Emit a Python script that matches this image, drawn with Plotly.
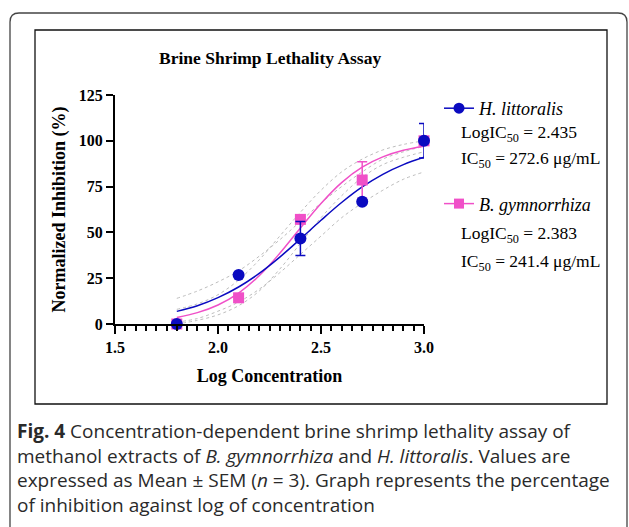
import plotly.graph_objects as go

# ---------------- data ----------------
log_conc = [1.8, 2.1, 2.4, 2.7, 3.0]
hl_mean = [0.0, 26.7, 46.7, 66.7, 100.0]
hl_sem = [0.0, 0.0, 9.3, 0.0, 9.4]
bg_mean = [0.0, 14.3, 57.1, 78.6, 100.0]
bg_sem = [0.0, 0.0, 1.5, 10.0, 0.0]

fit_x = [1.8, 1.9, 2.0, 2.1, 2.2, 2.3, 2.4, 2.5, 2.6, 2.7, 2.8, 2.9, 3.0]
hl_fit = [6.9, 10.0, 14.4, 20.2, 27.6, 36.5, 46.4, 56.6, 66.3, 74.8, 81.7, 87.0, 91.0]
bg_fit = [3.6, 6.2, 10.4, 16.9, 26.3, 38.6, 52.4, 65.8, 77.2, 85.6, 91.2, 94.8, 97.0]
hl_lo = [1, 3, 7, 12, 19, 28, 38, 48, 58, 66, 73, 79, 83]
hl_hi = [14, 18, 23, 29, 37, 46, 56, 66, 75, 83, 90, 94, 97]
bg_lo = [0, 2, 5, 10, 18, 30, 44, 58, 70, 80, 87, 91, 94]
bg_hi = [8, 11, 16, 24, 35, 48, 61, 73, 83, 90, 95, 98, 100]

y_ticks = [0, 25, 50, 75, 100, 125]
x_ticks = [1.5, 2.0, 2.5, 3.0]
x_tick_text = ["1.5", "2.0", "2.5", "3.0"]

BLUE = "#0a0ac0"
PINK = "#f050c8"
SERIF = "Liberation Serif, Times New Roman, serif"

# plot area in pixels
W, H = 629, 527
L, R, T, B = 115, 424, 95, 324


def px(x):
    return (x - L) / (R - L)


def py(y):
    return (B - y) / (B - T)


fig = go.Figure()

# confidence bands (dotted)
for band in [bg_lo, bg_hi, hl_lo, hl_hi]:
    fig.add_trace(go.Scatter(x=fit_x, y=band, mode="lines", line=dict(color="#bdbdbd", width=1, dash="dot", shape="spline"),
                             showlegend=False, hoverinfo="skip", cliponaxis=False))

# fitted curves
fig.add_trace(go.Scatter(x=fit_x, y=bg_fit, mode="lines", line=dict(color=PINK, width=1.5, shape="spline"),
                         showlegend=False, cliponaxis=False))
fig.add_trace(go.Scatter(x=fit_x, y=hl_fit, mode="lines", line=dict(color=BLUE, width=1.5, shape="spline"),
                         showlegend=False, cliponaxis=False))

# data points
fig.add_trace(go.Scatter(x=log_conc, y=bg_mean, mode="markers",
                         marker=dict(symbol="square", size=11, color=PINK),
                         error_y=dict(type="data", array=bg_sem, color=PINK, thickness=1.5, width=5),
                         showlegend=False, cliponaxis=False))
fig.add_trace(go.Scatter(x=log_conc, y=hl_mean, mode="markers",
                         marker=dict(symbol="circle", size=12, color=BLUE),
                         error_y=dict(type="data", array=hl_sem, color=BLUE, thickness=1.5, width=5),
                         showlegend=False, cliponaxis=False))

# legend entries
fig.add_trace(go.Scatter(x=[None], y=[None], mode="lines+markers", name="<i>H. littoralis</i>",
                         line=dict(color=BLUE, width=1.5), marker=dict(symbol="circle", size=11, color=BLUE),
                         legendgroup="a"))
fig.add_trace(go.Scatter(x=[None], y=[None], mode="lines+markers", name="<i>B. gymnorrhiza</i>",
                         line=dict(color=PINK, width=1.5), marker=dict(symbol="square", size=10, color=PINK),
                         legendgroup="b"))

legend_lines = [
    ("LogIC<sub>50</sub> = 2.435", 133),
    ("IC<sub>50</sub> = 272.6 μg/mL", 159),
    ("LogIC<sub>50</sub> = 2.383", 234),
    ("IC<sub>50</sub> = 241.4 μg/mL", 262),
]
annotations = []
for txt, yy in legend_lines:
    annotations.append(dict(text=txt, xref="paper", yref="paper", x=px(459), y=py(yy), xanchor="left",
                            yanchor="middle", showarrow=False, font=dict(family=SERIF, size=17.5, color="black")))

caption = ("<b>Fig. 4</b> Concentration-dependent brine shrimp lethality assay of<br>"
           "methanol extracts of <i>B. gymnorrhiza</i> and <i>H. littoralis</i>. Values are<br>"
           "expressed as Mean ± SEM (<i>n</i> = 3). Graph represents the percentage<br>"
           "of inhibition against log of concentration")
annotations.append(dict(text=caption, xref="paper", yref="paper", x=px(15), y=py(416), xanchor="left",
                        yanchor="top", align="left", showarrow=False,
                        font=dict(family="Open Sans, Noto Sans, sans-serif", size=19, color="#2a2a2a")))

annotations.append(dict(text="<b>Brine Shrimp Lethality Assay</b>", xref="paper", yref="paper",
                        x=px(270), y=py(58), xanchor="center", yanchor="middle", showarrow=False,
                        font=dict(family=SERIF, size=17.5, color="black")))

# decorative frames
r = 9
outer = (f"M {px(10)} {py(540)} L {px(10)} {py(13 + r)} Q {px(10)} {py(13)} {px(10 + r)} {py(13)} "
         f"L {px(627 - r)} {py(13)} Q {px(627)} {py(13)} {px(627)} {py(13 + r)} L {px(627)} {py(540)}")
shapes = [
    dict(type="path", path=outer, xref="paper", yref="paper", line=dict(color="#444444", width=1.3)),
    dict(type="rect", xref="paper", yref="paper", x0=px(35), x1=px(607), y0=py(30), y1=py(404),
         line=dict(color="#111111", width=1.3)),
]

tickfont = dict(family=SERIF, size=16, color="black", weight="bold")

fig.update_layout(
    width=W, height=H,
    margin=dict(l=L, r=W - R, t=T, b=H - B),
    plot_bgcolor="white", paper_bgcolor="white",
    showlegend=True,
    legend=dict(x=px(439), y=py(90), xanchor="left", yanchor="top", tracegroupgap=69,
                font=dict(family=SERIF, size=18, color="black"), itemwidth=30, bgcolor="rgba(0,0,0,0)"),
    annotations=annotations,
    shapes=shapes,
    xaxis=dict(range=[1.5, 3.0], tickvals=x_ticks, ticktext=x_tick_text, showgrid=False, zeroline=False,
               showline=True, linecolor="black", linewidth=2, ticks="outside", ticklen=8, tickwidth=2,
               tickcolor="black",
               minor=dict(dtick=0.05, ticks="outside", ticklen=5, tickwidth=1.5, tickcolor="black", showgrid=False),
               tickfont=tickfont,
               title=dict(text="<b>Log Concentration</b>", font=dict(family=SERIF, size=18, color="black"), standoff=14)),
    yaxis=dict(range=[0, 125], tickvals=y_ticks, showgrid=False, zeroline=False,
               showline=True, linecolor="black", linewidth=2, ticks="outside", ticklen=7, tickwidth=2,
               tickcolor="black", tickfont=tickfont,
               title=dict(text="<b>Normalized Inhibition (%)</b>", font=dict(family=SERIF, size=18, color="black"),
                          standoff=8)),
)

fig.write_html("out.html")
